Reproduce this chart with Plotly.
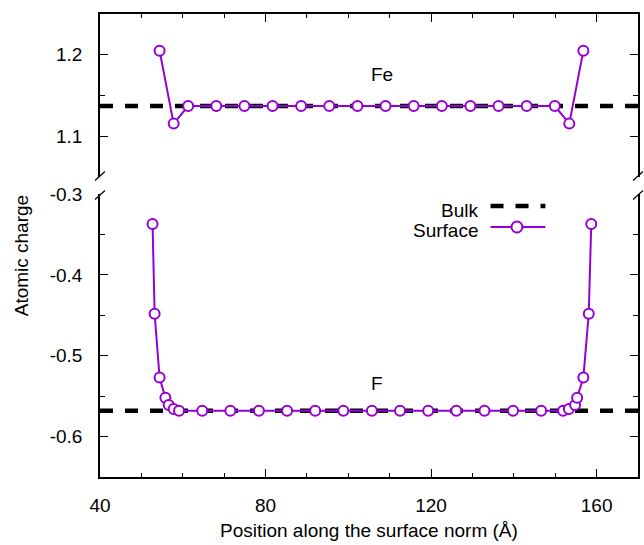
import plotly.graph_objects as go

# ---------------- data ----------------
x_range = [40, 170]
x_tick_vals = [40, 80, 120, 160]
x_tick_text = ["40", "80", "120", "160"]
x_minor_vals = [50, 60, 70, 90, 100, 110, 130, 140, 150]

fe_range = [1.05, 1.25]
fe_tick_vals = [1.1, 1.2]
fe_tick_text = ["1.1", "1.2"]
fe_minor_vals = [1.15]

f_range = [-0.65, -0.2999]
f_tick_vals = [-0.6, -0.5, -0.4, -0.3]
f_tick_text = ["-0.6", "-0.5", "-0.4", "-0.3"]
f_minor_vals = [-0.35, -0.45, -0.55]

bulk_x = [40, 170]
fe_bulk = [1.137, 1.137]
f_bulk = [-0.568, -0.568]

fe_x = [54.4, 57.8, 61.3, 68.1, 74.9, 81.7, 88.6, 95.4, 102.2, 109.0,
        115.8, 122.6, 129.5, 136.3, 143.1, 149.9, 153.4, 156.8]
fe_y = [1.205, 1.1155, 1.137, 1.137, 1.137, 1.137, 1.137, 1.137, 1.137, 1.137,
        1.137, 1.137, 1.137, 1.137, 1.137, 1.137, 1.1155, 1.205]

f_x = [52.7, 53.2, 54.4, 55.8, 56.6, 57.8, 59.1,
       64.7, 71.5, 78.4, 85.2, 92.0, 98.8, 105.7, 112.5, 119.3, 126.1, 132.9, 139.8, 146.6,
       151.9, 153.3, 154.8, 155.3, 156.8, 158.1, 158.7]
f_y = [-0.337, -0.448, -0.527, -0.552, -0.561, -0.566, -0.568,
       -0.568, -0.568, -0.568, -0.568, -0.568, -0.568, -0.568, -0.568, -0.568, -0.568, -0.568, -0.568, -0.568,
       -0.568, -0.566, -0.561, -0.552, -0.527, -0.448, -0.337]

series_names = ["Bulk", "Surface"]
panel_labels = ["Fe", "F"]

# ---------------- style ----------------
PURPLE = "#9400D3"
FONT = "Liberation Sans, Arial, Helvetica, sans-serif"
FS = 19
DASH = "13px,12px"

fig = go.Figure()

bulk_line = dict(color="black", width=4.5, dash=DASH)
surf_line = dict(color=PURPLE, width=2)
surf_marker = dict(symbol="circle", size=10, color="white", line=dict(color=PURPLE, width=2))

fig.add_trace(go.Scatter(x=bulk_x, y=fe_bulk, mode="lines", line=bulk_line,
                         xaxis="x2", yaxis="y2", name=series_names[0]))
fig.add_trace(go.Scatter(x=fe_x, y=fe_y, mode="lines+markers", line=surf_line,
                         marker=surf_marker, xaxis="x2", yaxis="y2", name=series_names[1],
                         cliponaxis=False))
fig.add_trace(go.Scatter(x=bulk_x, y=f_bulk, mode="lines", line=bulk_line,
                         xaxis="x", yaxis="y", name=series_names[0]))
fig.add_trace(go.Scatter(x=f_x, y=f_y, mode="lines+markers", line=surf_line,
                         marker=surf_marker, xaxis="x", yaxis="y", name=series_names[1],
                         cliponaxis=False))

# geometry in pixels
W, H = 644, 545
L, R, T, B = 100, 4, 14, 68
PW = W - L - R
PH = H - T - B
top_bottom_px = 177
bot_top_px = 194
bottom_px = H - B
top_dom0 = (bottom_px - top_bottom_px) / PH
bot_dom1 = (bottom_px - bot_top_px) / PH

axis_common = dict(showline=True, linecolor="black", linewidth=1.5,
                   ticks="inside", ticklen=8, tickwidth=1, tickcolor="black",
                   showgrid=False, zeroline=False,
                   tickfont=dict(family=FONT, size=FS, color="black"))

fig.update_layout(
    width=W, height=H,
    margin=dict(l=L, r=R, t=T, b=B),
    plot_bgcolor="white", paper_bgcolor="white",
    showlegend=False,
    font=dict(family=FONT, size=FS, color="black"),
    xaxis=dict(domain=[0, 1], range=x_range, anchor="y", side="bottom",
               tickmode="array", tickvals=x_tick_vals, ticktext=x_tick_text,
               minor=dict(tickmode="array", tickvals=x_minor_vals, ticks="inside", ticklen=4,
                          tickcolor="black"),
               ticklabelstandoff=10, **axis_common),
    xaxis2=dict(domain=[0, 1], range=x_range, anchor="y2", side="top", matches="x",
                tickmode="array", tickvals=x_tick_vals, ticktext=x_tick_text,
                minor=dict(tickmode="array", tickvals=x_minor_vals, ticks="inside", ticklen=4,
                           tickcolor="black"),
                showticklabels=False, **axis_common),
    yaxis=dict(domain=[0, bot_dom1], range=f_range, anchor="x", mirror="ticks",
               tickmode="array", tickvals=f_tick_vals, ticktext=f_tick_text,
               minor=dict(tickmode="array", tickvals=f_minor_vals, ticks="inside", ticklen=5,
                          tickcolor="black"),
               ticklabelstandoff=12, **axis_common),
    yaxis2=dict(domain=[top_dom0, 1], range=fe_range, anchor="x2", mirror="ticks",
                tickmode="array", tickvals=fe_tick_vals, ticktext=fe_tick_text,
                minor=dict(tickmode="array", tickvals=fe_minor_vals, ticks="inside", ticklen=5,
                           tickcolor="black"),
                ticklabelstandoff=12, **axis_common),
)

def px_x(px):
    return (px - L) / PW

def px_y(py):
    return (bottom_px - py) / PH

shapes = []
# break marks on left and right axes
for cx in (L, W - R):
    for cy in (top_bottom_px - 1, bot_top_px + 1):
        shapes.append(dict(type="line", xref="paper", yref="paper",
                           x0=px_x(cx - 5), y0=px_y(cy + 4.5),
                           x1=px_x(cx + 5), y1=px_y(cy - 4.5),
                           line=dict(color="black", width=1.2)))

# manual legend (text left, sample right)
leg_x0, leg_x1 = 492, 547
bulk_py, surf_py = 206, 227
shapes.append(dict(type="line", xref="paper", yref="paper",
                   x0=px_x(leg_x0), x1=px_x(leg_x1), y0=px_y(bulk_py), y1=px_y(bulk_py),
                   line=dict(color="black", width=4.5, dash=DASH)))
shapes.append(dict(type="line", xref="paper", yref="paper",
                   x0=px_x(leg_x0), x1=px_x(leg_x1), y0=px_y(surf_py), y1=px_y(surf_py),
                   line=dict(color=PURPLE, width=2)))
cxm = (leg_x0 + leg_x1) / 2 - 1
shapes.append(dict(type="circle", xref="paper", yref="paper",
                   x0=px_x(cxm - 5.5), x1=px_x(cxm + 5.5), y0=px_y(surf_py + 5.5), y1=px_y(surf_py - 5.5),
                   fillcolor="white", line=dict(color=PURPLE, width=2)))
fig.update_layout(shapes=shapes)

annotations = [
    dict(text=series_names[0], xref="paper", yref="paper", x=px_x(481), y=px_y(210),
         xanchor="right", yanchor="middle", showarrow=False, font=dict(size=FS)),
    dict(text=series_names[1], xref="paper", yref="paper", x=px_x(481), y=px_y(230),
         xanchor="right", yanchor="middle", showarrow=False, font=dict(size=FS)),
    dict(text=panel_labels[0], xref="x2", yref="y2", x=108.1, y=1.1755,
         xanchor="center", yanchor="middle", showarrow=False, font=dict(size=FS)),
    dict(text=panel_labels[1], xref="x", yref="y", x=106.9, y=-0.534,
         xanchor="center", yanchor="middle", showarrow=False, font=dict(size=FS)),
    dict(text="Atomic charge", xref="paper", yref="paper", x=px_x(22), y=px_y(256),
         xanchor="center", yanchor="middle", textangle=-90, showarrow=False, font=dict(size=FS)),
    dict(text="Position along the surface norm (Å)", xref="paper", yref="paper",
         x=0.5, y=px_y(530), xanchor="center", yanchor="middle", showarrow=False,
         font=dict(size=FS)),
]
fig.update_layout(annotations=annotations)

fig.write_html("out.html")
